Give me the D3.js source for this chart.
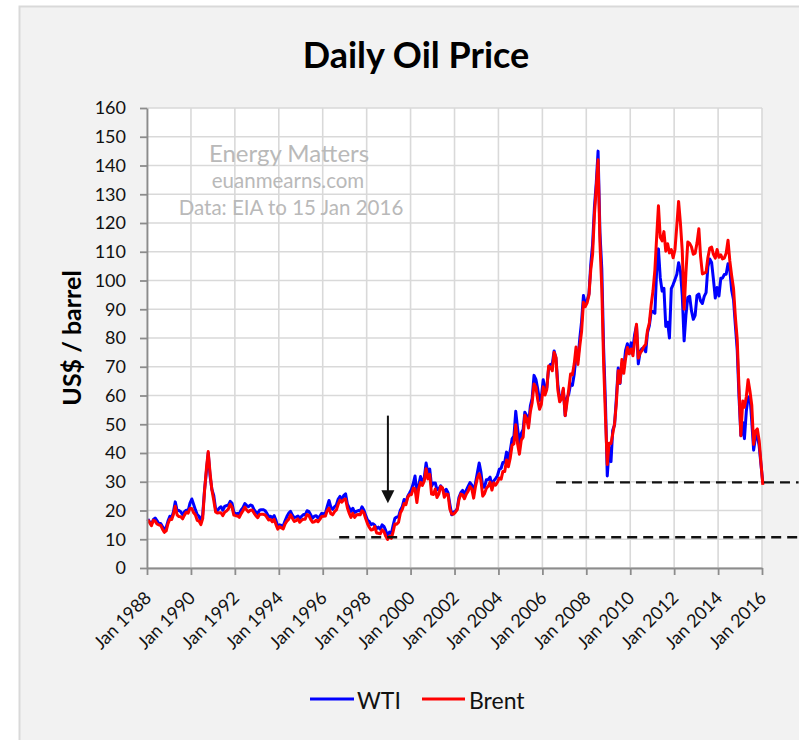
<!DOCTYPE html>
<html>
<head>
<meta charset="utf-8">
<script src="https://cdn.jsdelivr.net/npm/d3@7"></script>
<style>
  body { margin: 0; background: #ffffff; }
  svg { display: block; }
  text { font-family: Lato, "Open Sans", "DejaVu Sans", sans-serif; }
</style>
</head>
<body>
<svg id="chart" width="799" height="740"></svg>
<script>
// Monthly spot prices, US$ per barrel, January 1988 onwards (one value per month,
// last value = 15 Jan 2016). Peaks and troughs follow the daily extremes.
const startYear = 1988;

const wti = [
  17.0, 16.0, 15.2, 16.8, 17.4, 16.5, 15.5, 15.5, 14.4, 13.6, 14.1, 16.3, // 1988
  18.0, 17.6, 19.5, 23.0, 20.1, 20.0, 19.6, 18.5, 19.6, 20.1, 19.9, 22.5, // 1989
  24.0, 22.1, 20.3, 18.6, 18.0, 16.2, 18.5, 27.2, 33.6, 40.0, 32.0, 27.3, // 1990
  25.2, 20.5, 19.9, 20.8, 21.3, 20.1, 21.4, 21.7, 21.9, 23.2, 22.5, 19.5, // 1991
  18.8, 19.0, 18.9, 20.2, 21.0, 22.4, 21.8, 21.3, 21.9, 21.7, 20.3, 19.4, // 1992
  19.0, 20.1, 20.3, 20.3, 20.0, 19.1, 17.9, 18.0, 17.5, 18.2, 16.6, 14.3, // 1993
  15.0, 14.8, 14.7, 16.4, 17.9, 19.1, 19.7, 18.4, 17.5, 17.7, 18.1, 17.2, // 1994
  18.0, 18.6, 18.5, 19.9, 19.7, 18.5, 17.3, 18.0, 18.2, 17.4, 18.0, 19.0, // 1995
  18.9, 19.1, 21.3, 23.5, 21.2, 20.4, 21.3, 21.9, 24.0, 24.9, 23.7, 25.2, // 1996
  25.8, 22.2, 21.0, 19.7, 20.8, 19.3, 19.7, 20.0, 19.8, 21.3, 20.2, 18.3, // 1997
  16.7, 16.1, 15.1, 15.4, 14.9, 13.7, 14.2, 13.5, 15.0, 14.5, 13.0, 11.2, // 1998
  12.5, 12.0, 14.7, 17.3, 17.7, 17.9, 20.1, 21.3, 23.8, 22.7, 25.0, 26.1, // 1999
  27.3, 29.4, 32.0, 25.7, 28.8, 31.8, 29.7, 31.3, 36.5, 33.1, 34.4, 28.4, // 2000
  29.6, 29.6, 27.2, 27.5, 28.6, 27.6, 26.4, 27.4, 26.2, 22.2, 18.5, 19.4, // 2001
  19.7, 20.7, 24.5, 26.2, 27.0, 25.5, 27.0, 28.4, 29.7, 28.8, 26.4, 29.5, // 2002
  33.0, 36.5, 33.5, 28.2, 28.1, 30.7, 30.8, 31.6, 28.3, 30.3, 31.1, 32.1, // 2003
  34.3, 34.7, 36.7, 36.8, 40.3, 38.0, 40.8, 44.9, 45.9, 54.5, 48.5, 43.2, // 2004
  46.8, 48.2, 54.2, 53.0, 49.8, 56.4, 59.0, 67.0, 65.6, 62.3, 58.3, 59.4, // 2005
  65.5, 61.6, 62.7, 69.4, 70.8, 71.0, 75.5, 73.0, 63.8, 58.9, 59.1, 62.0, // 2006
  53.0, 59.3, 60.4, 64.0, 63.5, 67.5, 74.1, 72.4, 79.9, 85.8, 94.8, 91.7, // 2007
  93.0, 95.4, 105.5, 112.6, 125.4, 134.0, 145.0, 116.7, 104.1, 76.6, 57.3, 32.0, // 2008
  41.7, 37.0, 47.9, 49.7, 59.0, 69.6, 64.2, 71.1, 69.4, 75.7, 78.0, 74.5, // 2009
  78.3, 76.4, 81.2, 84.3, 71.0, 75.3, 76.3, 76.6, 75.2, 81.9, 84.3, 89.2, // 2010
  89.2, 88.6, 102.9, 111.0, 100.9, 96.3, 97.3, 84.0, 85.5, 80.0, 97.2, 98.6, // 2011
  100.3, 102.2, 106.2, 103.3, 94.7, 79.0, 87.9, 94.1, 94.5, 89.5, 86.5, 87.9, // 2012
  94.8, 95.3, 92.9, 92.0, 94.5, 95.8, 104.7, 107.5, 106.3, 100.5, 93.9, 97.6, // 2013
  94.6, 100.8, 100.8, 102.1, 102.2, 105.8, 103.6, 96.5, 93.2, 84.4, 75.8, 59.3, // 2014
  46.0, 50.6, 45.0, 54.5, 59.3, 59.8, 50.9, 41.0, 45.5, 46.2, 42.4, 36.0, // 2015
  29.4                                                                      // 2016
];

const brent = [
  16.8, 15.7, 14.7, 16.6, 16.3, 15.3, 15.0, 14.8, 13.5, 12.4, 12.9, 15.4, // 1988
  17.0, 16.9, 18.6, 21.5, 18.5, 17.9, 17.8, 17.1, 18.4, 19.4, 19.1, 20.7, // 1989
  20.7, 19.2, 18.5, 16.6, 16.3, 15.1, 17.2, 26.8, 34.6, 40.5, 33.0, 27.2, // 1990
  23.6, 19.5, 19.1, 19.2, 19.2, 18.2, 19.4, 19.8, 20.5, 22.2, 21.1, 18.4, // 1991
  18.2, 18.1, 17.6, 18.9, 19.9, 21.2, 20.2, 19.5, 20.1, 20.2, 19.1, 18.2, // 1992
  17.5, 18.6, 18.7, 18.7, 18.5, 17.7, 16.7, 16.9, 16.1, 16.9, 15.1, 13.5, // 1993
  14.4, 13.9, 13.6, 15.3, 16.3, 17.0, 18.5, 17.3, 16.2, 16.5, 17.1, 15.9, // 1994
  16.6, 17.0, 17.0, 18.6, 18.3, 16.9, 15.9, 16.1, 16.6, 16.1, 16.9, 17.9, // 1995
  18.0, 18.1, 19.9, 20.8, 18.9, 18.5, 19.6, 20.2, 22.2, 23.6, 22.9, 23.8, // 1996
  24.0, 20.9, 19.1, 17.6, 19.0, 17.6, 18.5, 18.6, 18.5, 19.9, 19.2, 17.2, // 1997
  15.4, 14.1, 13.2, 13.4, 14.4, 12.2, 12.1, 11.9, 13.3, 12.7, 11.0, 9.9,  // 1998
  11.1, 10.3, 12.5, 15.3, 15.2, 15.9, 19.1, 20.3, 22.4, 22.0, 24.6, 25.5, // 1999
  25.5, 27.8, 27.5, 22.8, 27.7, 29.8, 28.7, 30.2, 34.5, 31.0, 32.6, 25.7, // 2000
  25.6, 27.5, 24.5, 25.7, 28.3, 27.9, 24.6, 25.7, 25.6, 20.5, 18.8, 18.7, // 2001
  19.4, 20.3, 23.7, 25.7, 25.4, 24.1, 25.7, 26.7, 28.4, 27.5, 24.3, 28.3, // 2002
  31.2, 32.8, 30.6, 25.0, 25.9, 27.7, 28.4, 29.9, 27.1, 29.6, 28.8, 29.8, // 2003
  31.3, 30.9, 33.6, 33.6, 37.6, 35.2, 38.2, 42.7, 43.2, 49.8, 43.1, 39.6, // 2004
  44.5, 45.5, 53.1, 51.9, 48.7, 54.4, 57.5, 64.0, 62.9, 58.5, 55.2, 56.9, // 2005
  63.0, 60.2, 62.1, 70.3, 69.8, 68.6, 75.0, 73.2, 62.0, 57.8, 58.8, 62.5, // 2006
  53.0, 57.6, 62.1, 67.5, 67.2, 71.1, 76.9, 70.8, 77.2, 82.3, 92.4, 90.9, // 2007
  92.2, 95.0, 103.6, 109.1, 122.8, 132.3, 142.0, 113.2, 97.2, 71.6, 52.5, 36.0, // 2008
  43.4, 43.3, 46.5, 50.2, 57.3, 68.6, 64.4, 72.5, 67.7, 72.8, 76.7, 74.5, // 2009
  76.2, 73.8, 78.8, 84.8, 73.0, 74.8, 75.6, 77.0, 77.8, 82.7, 85.3, 91.5, // 2010
  96.5, 103.7, 114.6, 126.0, 115.0, 113.8, 117.0, 110.2, 112.8, 109.6, 110.8, 107.9, // 2011
  110.7, 119.3, 127.5, 119.8, 110.3, 90.0, 102.6, 113.4, 112.9, 111.7, 109.1, 109.5, // 2012
  113.0, 118.0, 108.5, 102.3, 102.6, 102.9, 107.9, 111.3, 111.6, 109.1, 107.8, 110.8, // 2013
  108.1, 108.9, 107.5, 107.8, 109.5, 114.0, 106.8, 101.6, 97.1, 87.4, 79.4, 62.3, // 2014
  46.0, 58.1, 55.9, 59.5, 65.5, 61.5, 56.6, 43.0, 47.6, 48.4, 44.3, 36.5, // 2015
  28.9                                                                      // 2016
];

const seriesNames = ["WTI", "Brent"];
const seriesColors = ["#0000ff", "#ff0000"];

const yTicks = [0, 10, 20, 30, 40, 50, 60, 70, 80, 90, 100, 110, 120, 130, 140, 150, 160];
const xTickYears = [1988, 1990, 1992, 1994, 1996, 1998, 2000, 2002, 2004, 2006, 2008, 2010, 2012, 2014, 2016];
const xTickLabels = ["Jan 1988", "Jan 1990", "Jan 1992", "Jan 1994", "Jan 1996", "Jan 1998", "Jan 2000",
  "Jan 2002", "Jan 2004", "Jan 2006", "Jan 2008", "Jan 2010", "Jan 2012", "Jan 2014", "Jan 2016"];

// Horizontal support levels (dashed) and the late-1998 low marker
const guideLevels = [10.7, 29.8];
const guideStarts = ["1996-10-01", "2006-08-15"];
const guideEnd = "2017-09-01";
const arrowDate = "1998-12-20";
const arrowTop = 53;
const arrowTip = 22.5;

const titleText = "Daily Oil Price";
const yAxisTitle = "US$ / barrel";
const creditLines = ["Energy Matters", "euanmearns.com", "Data: EIA to 15 Jan 2016"];

// ---------------------------------------------------------------------------
const svg = d3.select("#chart");
const plot = { left: 147, right: 762, top: 108, bottom: 568 };

const monthDate = i => new Date(startYear, i, 15);
const parse = d3.timeParse("%Y-%m-%d");

const x = d3.scaleTime()
  .domain([new Date(1988, 0, 1), new Date(2016, 0, 1)])
  .range([plot.left, plot.right]);
const y = d3.scaleLinear().domain([0, 160]).range([plot.bottom, plot.top]);

// outer panel
svg.append("rect").attr("x", 19.5).attr("y", 6.5).attr("width", 820).attr("height", 800)
  .attr("fill", "#f2f2f2").attr("stroke", "#d9d9d9").attr("stroke-width", 2);

// plot area
svg.append("rect").attr("x", plot.left).attr("y", plot.top)
  .attr("width", plot.right - plot.left).attr("height", plot.bottom - plot.top)
  .attr("fill", "#ffffff");

const grid = svg.append("g").attr("stroke", "#d9d9d9").attr("stroke-width", 1.6);
grid.selectAll("line.h").data(yTicks).join("line").attr("class", "h")
  .attr("x1", plot.left).attr("x2", plot.right)
  .attr("y1", d => y(d)).attr("y2", d => y(d));
grid.selectAll("line.v").data(xTickYears).join("line").attr("class", "v")
  .attr("x1", d => x(new Date(d, 0, 1))).attr("x2", d => x(new Date(d, 0, 1)))
  .attr("y1", plot.top).attr("y2", plot.bottom);

// watermark / credits
const credit = svg.append("g").attr("fill", "#b9b9b9").attr("text-anchor", "middle");
credit.append("text").attr("x", 289).attr("y", 162).attr("font-size", 24).text(creditLines[0]);
credit.append("text").attr("x", 288).attr("y", 188).attr("font-size", 20.5).text(creditLines[1]);
credit.append("text").attr("x", 291).attr("y", 215).attr("font-size", 20.5).text(creditLines[2]);

// price lines
const line = d3.line().x((d, i) => x(monthDate(i))).y(d => y(d)).curve(d3.curveLinear);
[wti, brent].forEach((s, k) => {
  svg.append("path").datum(s)
    .attr("d", line)
    .attr("fill", "none")
    .attr("stroke", seriesColors[k])
    .attr("stroke-width", 3)
    .attr("stroke-linejoin", "round");
});

// axes
const axisColor = "#8c8c8c";
const yAxis = svg.append("g").attr("transform", `translate(${plot.left},0)`)
  .call(d3.axisLeft(y).tickValues(yTicks).tickSize(7).tickSizeOuter(0).tickPadding(14));
const xAxis = svg.append("g").attr("transform", `translate(0,${plot.bottom})`)
  .call(d3.axisBottom(x).tickValues(xTickYears.map(v => new Date(v, 0, 1)))
    .tickFormat((d, i) => xTickLabels[i]).tickSize(7).tickSizeOuter(0));

[yAxis, xAxis].forEach(a => {
  a.select(".domain").attr("stroke", axisColor).attr("stroke-width", 1.8);
  a.selectAll(".tick line").attr("stroke", axisColor).attr("stroke-width", 1.8);
  a.selectAll(".tick text").attr("fill", "#111").attr("font-size", 18)
    .attr("font-family", 'Lato, "Open Sans", sans-serif');
});
xAxis.selectAll(".tick text")
  .attr("y", null).attr("dy", null)
  .attr("text-anchor", "end")
  .attr("transform", "translate(5,31) rotate(-45)");

// dashed support levels
guideLevels.forEach((lv, i) => {
  svg.append("line")
    .attr("x1", x(parse(guideStarts[i]))).attr("x2", x(parse(guideEnd)))
    .attr("y1", y(lv)).attr("y2", y(lv))
    .attr("stroke", "#111").attr("stroke-width", 2.4).attr("stroke-dasharray", "10,6");
});

// arrow pointing at the 1998 low
const ax = x(parse(arrowDate));
svg.append("line").attr("x1", ax).attr("x2", ax)
  .attr("y1", y(arrowTop)).attr("y2", y(arrowTip) - 10)
  .attr("stroke", "#111").attr("stroke-width", 2);
svg.append("path")
  .attr("d", `M${ax - 6.5},${y(arrowTip) - 13} L${ax + 6.5},${y(arrowTip) - 13} L${ax},${y(arrowTip)} Z`)
  .attr("fill", "#111");

// title and axis title
svg.append("text").attr("x", 416).attr("y", 68).attr("text-anchor", "middle")
  .attr("font-size", 36).attr("font-weight", 700).attr("fill", "#000").text(titleText);
svg.append("text").attr("transform", "translate(81,338) rotate(-90)").attr("text-anchor", "middle")
  .attr("font-size", 25).attr("font-weight", 700).attr("fill", "#000").text(yAxisTitle);

// legend
const legendItems = [{ x1: 310, x2: 354, tx: 357 }, { x1: 422, x2: 465, tx: 469 }];
const legend = svg.append("g");
seriesNames.forEach((name, i) => {
  const it = legendItems[i];
  legend.append("line").attr("x1", it.x1).attr("x2", it.x2).attr("y1", 699).attr("y2", 699)
    .attr("stroke", seriesColors[i]).attr("stroke-width", 3);
  legend.append("text").attr("x", it.tx).attr("y", 709).attr("font-size", 23)
    .attr("fill", "#111").text(name);
});
</script>
</body>
</html>
